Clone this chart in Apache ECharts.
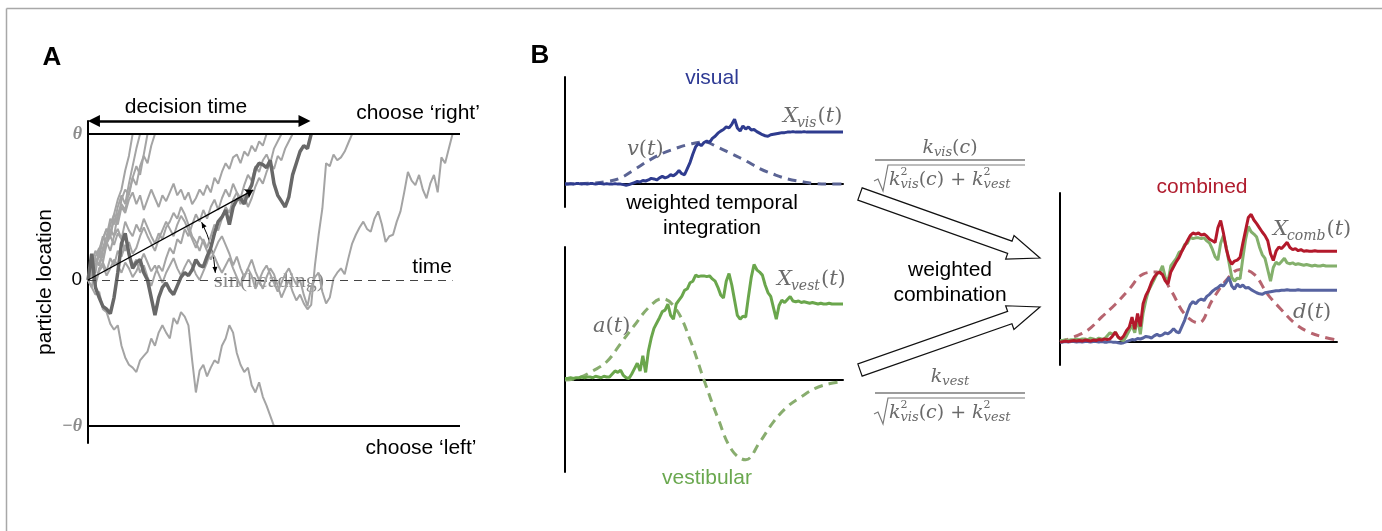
<!DOCTYPE html>
<html>
<head>
<meta charset="utf-8">
<script src="https://cdn.jsdelivr.net/npm/echarts@6/dist/echarts.min.js"></script>
<style>
  html, body { margin: 0; padding: 0; background: #fff; }
  #chart { width: 1382px; height: 531px; }
</style>
</head>
<body>
<div id="chart"></div>
<script>
// ---------- panel A: particle paths, one value per time step (bounds at +/-1)
const walkDark = [0, 0.18, -0.05, -0.12, -0.18, -0.2, -0.23, -0.12, 0.05, 0.25, 0.32, 0.18, 0.08, 0.12, 0.14, 0.05, 0, -0.12, -0.24, -0.12,
  -0.05, -0.02, -0.07, -0.1, -0.04, 0.02, 0.05, 0.03, 0.07, 0.14, 0.1, 0.09, 0.16, 0.22, 0.32, 0.4, 0.43, 0.48, 0.38, 0.5,
  0.55, 0.56, 0.52, 0.6, 0.65, 0.76, 0.8, 0.79, 0.77, 0.82, 0.66, 0.58, 0.54, 0.5, 0.57, 0.72, 0.8, 0.88, 0.92, 0.9, 1.0];
const walkDown = [0, -0.05, -0.1, -0.08, -0.2, -0.22, -0.3, -0.34, -0.31, -0.45, -0.53, -0.58, -0.6, -0.63, -0.55, -0.52, -0.49, -0.4, -0.45, -0.36,
  -0.31, -0.36, -0.4, -0.26, -0.3, -0.22, -0.25, -0.31, -0.55, -0.77, -0.62, -0.58, -0.66, -0.6, -0.55, -0.57, -0.45, -0.4, -0.31, -0.36,
  -0.5, -0.58, -0.63, -0.6, -0.72, -0.77, -0.7, -0.8, -0.86, -0.93, -1.0];
const walkLong = [0, 0.04, -0.03, 0.06, 0.1, 0.03, 0.08, 0.14, 0.1, 0.05, 0.12, 0.08, 0.02, 0.06, 0.12, 0.18, 0.12, 0.06, 0.1, 0.04,
  -0.02, 0.05, 0.1, 0.15, 0.08, 0.03, 0.09, 0.14, 0.1, 0.04, 0.0, 0.06, 0.12, 0.2, 0.16, 0.1, 0.05, 0.1, 0.15, 0.08,
  0.02, -0.04, 0.02, 0.08, 0.03, -0.06, 0.0, 0.06, 0.1, 0.04, -0.02, -0.08, -0.02, 0.04, 0.08, 0.02, -0.03,
  0.0, -0.1, -0.18, -0.05, 0.02, 0.05, -0.08, -0.16, -0.12, 0.01, 0.05, 0.08, 0.04, 0.15, 0.25, 0.31, 0.36, 0.4, 0.35, 0.33,
  0.42, 0.47, 0.38, 0.26, 0.3, 0.31, 0.4, 0.47, 0.6, 0.74, 0.68, 0.65, 0.72, 0.62, 0.56, 0.66, 0.72, 0.6, 0.84, 0.8, 0.9, 1.0];
const walkLate = [0, 0.08, 0.16, 0.22, 0.15, 0.25, 0.3, 0.24, 0.32, 0.28, 0.2, 0.26, 0.18, 0.22, 0.3, 0.36, 0.3, 0.25, 0.2, 0.28,
  0.34, 0.4, 0.35, 0.3, 0.38, 0.44, 0.4, 0.34, 0.28, 0.22, 0.3, 0.26, 0.2, 0.14, 0.2, 0.26, 0.3, 0.24, 0.18, 0.1,
  0.16, 0.08, 0.02, 0.08, 0.14, 0.06, 0.0, -0.06, 0.02, 0.08, 0.04, -0.04, -0.12, -0.06, 0.0, -0.08, -0.14, -0.1, -0.16, -0.2,
  -0.17, 0.1, 0.31, 0.49, 0.8, 0.78, 0.86, 0.82, 0.84, 0.88, 0.94, 1.0];
const walkMidA = [0, 0.05, -0.02, 0.08, 0.12, 0.06, 0.15, 0.1, 0.2, 0.16, 0.24, 0.18, 0.1, 0.14, 0.05, 0.1, 0.02, -0.04, 0.04, 0.1,
  0.06, 0.15, 0.22, 0.18, 0.28, 0.25, 0.35, 0.3, 0.38, 0.45, 0.4, 0.48, 0.42, 0.5, 0.55, 0.48, 0.56, 0.62, 0.57, 0.66,
  0.6, 0.52, 0.58, 0.5, 0.56, 0.64, 0.7, 0.66, 0.74, 0.8, 0.76, 0.85, 0.82, 0.9, 0.95, 1.0];
const walkMidB = [0, 0.12, 0.2, 0.15, 0.28, 0.35, 0.3, 0.42, 0.38, 0.5, 0.46, 0.55, 0.6, 0.52, 0.58, 0.48, 0.55, 0.62, 0.56, 0.5,
  0.58, 0.54, 0.6, 0.66, 0.58, 0.62, 0.55, 0.6, 0.52, 0.56, 0.62, 0.58, 0.65, 0.6, 0.7, 0.66, 0.74, 0.8, 0.76, 0.84,
  0.86, 0.8, 0.88, 0.85, 0.92, 0.88, 0.95, 0.92, 1.0];
const walkMidC = [0, 0.06, 0.14, 0.1, 0.2, 0.26, 0.2, 0.3, 0.35, 0.28, 0.4, 0.34, 0.3, 0.38, 0.33, 0.42, 0.36, 0.3, 0.25, 0.32,
  0.28, 0.36, 0.4, 0.46, 0.42, 0.5, 0.45, 0.38, 0.3, 0.26, 0.2, 0.28, 0.22, 0.3, 0.38, 0.34, 0.42, 0.5, 0.46, 0.55,
  0.6, 0.56, 0.65, 0.72, 0.68, 0.78, 0.74, 0.82, 0.86, 0.8, 0.9, 0.95, 1.0];
const walkFastA = [0, 0.1, 0.05, 0.2, 0.28, 0.35, 0.3, 0.45, 0.55, 0.62, 0.75, 0.85, 1.0];
const walkFastB = [0, 0.08, 0.15, 0.1, 0.22, 0.3, 0.42, 0.38, 0.5, 0.58, 0.52, 0.66, 0.78, 0.9, 1.0];
const walkFastC = [0, -0.05, 0.1, 0.18, 0.12, 0.25, 0.35, 0.3, 0.45, 0.52, 0.48, 0.6, 0.7, 0.65, 0.78, 0.85, 0.8, 0.92, 1.0];
const walkFastD = [0, 0.15, 0.08, 0.2, 0.3, 0.25, 0.38, 0.45, 0.4, 0.55, 0.62, 0.58, 0.7, 0.78, 0.72, 0.86, 1.0];
const grayWalks = [walkLong, walkLate, walkMidA, walkMidB, walkMidC, walkFastA, walkFastB, walkFastC, walkFastD, walkDown];
const boundTicks = [-1, 0, 1];

// ---------- panel B: accumulated evidence, one value per time step (t = 0..100)
const visX = [0, 0, 0.01, 0, 0.01, 0.01, 0, 0.01, 0, 0.01, 0.01, 0, 0.01, 0.01, 0, 0.01, 0, 0, 0.01, 0, 0,
  -0.01, -0.02, -0.01, 0.01, 0.03, 0.05, 0.04, 0.07, 0.06, 0.08, 0.11, 0.1, 0.08, 0.12, 0.15, 0.12, 0.14, 0.18, 0.16, 0.2,
  0.26, 0.2, 0.18, 0.3, 0.42, 0.58, 0.72, 0.78, 0.74, 0.8, 0.83, 0.8, 0.88, 0.92, 0.98, 1.02, 1.05, 1.1, 1.08, 1.15,
  1.25, 1.08, 1.02, 1.12, 1.06, 1.1, 1.04, 1.05, 1.01, 0.98, 0.95, 0.93, 0.92, 0.95, 0.96, 0.97, 0.98, 0.99, 0.99, 1.0,
  1.0, 1.01, 1.0, 1.0, 1.0, 1.01, 1.0, 1.0, 1.0, 1.0, 1.0, 1.0, 1.0, 1.0, 1.0, 1.0, 1.0, 1.0, 1.0, 1.0];
const vestX = [0.02, 0.02, 0.03, 0.02, 0.03, 0.03, 0.04, 0.03, 0.04, 0.04, 0.03, 0.05, 0.04, 0.03, 0.05, 0.04,
  0.04, 0.08, 0.12, 0.1, 0.13, 0.06, 0.03, 0.02, 0.08, 0.15, 0.22, 0.12, 0.32, 0.1, 0.38,
  0.55, 0.68, 0.75, 0.82, 0.9, 0.92, 1.0, 0.85, 0.8, 1.0, 1.05, 1.1, 1.18, 1.2, 1.28, 1.3, 1.38, 1.36, 1.37, 1.37,
  1.36, 1.37, 1.33, 1.3, 1.22, 1.12, 1.08, 1.3, 1.4, 1.25, 1.05, 0.85, 0.8, 0.84, 0.83, 1.1, 1.35, 1.52, 1.45, 1.42,
  1.38, 1.25, 1.15, 1.1, 0.95, 0.8, 0.98, 1.05, 1.02, 1.06, 1.1, 1.04, 1.03, 1.04, 1.02, 1.03, 1.02, 1.01, 1.02, 1.01,
  1.0, 1.01, 1.0, 1.0, 1.01, 1.0, 1.0, 1.0, 1.0, 1.0];
const combX = [0, 0.01, 0.02, 0.01, 0.02, 0.03, 0.02, 0.03, 0.02, 0.04, 0.03, 0.02, 0.04, 0.03, 0.05, 0.04, 0.06, 0.05,
  0.06, 0.12, 0.19, 0.1, 0.06, 0.12, 0.22, 0.29, 0.48, 0.25, 0.55, 0.3,
  0.74, 0.9, 1.0, 1.15, 1.25, 1.32, 1.35, 1.3, 1.18, 1.12, 1.35, 1.45, 1.55, 1.63,
  1.75, 1.85, 1.95, 2.05, 2.1, 2.08, 2.1, 2.06, 2.08, 2.04, 1.98, 1.95, 1.92, 2.2, 2.34, 2.1, 1.8, 1.6, 1.5, 1.56,
  1.58, 1.63, 1.9, 2.15, 2.4, 2.46, 2.35, 2.28, 2.2, 2.12, 2.05, 1.95, 1.7, 1.57, 1.75, 1.83, 1.8, 1.86, 1.92, 1.82,
  1.78, 1.8, 1.76, 1.78, 1.75, 1.76, 1.75, 1.75, 1.76, 1.75, 1.75, 1.75, 1.75, 1.75, 1.75, 1.75, 1.75];

// stimulus / weighting profiles, sampled every 5 time steps
const kernelStep = 5;
const visKernel = [0, 0.01, 0.02, 0.05, 0.12, 0.28, 0.45, 0.59, 0.69, 0.77, 0.81, 0.71, 0.58, 0.45, 0.3, 0.19, 0.1, 0.05, 0.01, 0, 0];
const vestKernel = [0, 0.03, 0.12, 0.24, 0.48, 0.72, 0.95, 1.07, 0.93, 0.53, 0.0, -0.5, -0.92, -1.05, -0.82, -0.55, -0.35, -0.22, -0.11, -0.05, -0.02];
const combKernel = [0, 0.1, 0.23, 0.48, 0.73, 1.02, 1.31, 1.35, 1.0, 0.54, 0.37, 0.81, 1.19, 1.4, 1.31, 0.92, 0.62, 0.35, 0.19, 0.1, 0.04];

const SANS = '"Liberation Sans", Arial, sans-serif';
const SERIF = '"Liberation Serif", "DejaVu Serif", serif';
const MATH_FONT = '"DejaVu Serif", serif';
const MATH = '#6a6a6a';
const LABEL = 21;

const toPoints = (values, step) => values.map((v, i) => [i * (step || 1), v]);

const lineSeries = (values, axis, color, width, opts) => Object.assign({
  type: 'line',
  xAxisIndex: axis.x,
  yAxisIndex: axis.y,
  data: toPoints(values, opts && opts.step),
  showSymbol: false,
  symbol: 'none',
  silent: true,
  animation: false,
  lineStyle: { color, width, type: (opts && opts.dashed) ? [9, 6] : 'solid', cap: 'butt' },
}, opts && opts.extra);

const guide = (data, lineStyle, symbol, symbolSize) => ({
  type: 'line',
  xAxisIndex: 0,
  yAxisIndex: 0,
  data: [],
  silent: true,
  animation: false,
  markLine: {
    silent: true,
    animation: false,
    symbol,
    symbolSize,
    label: { show: false },
    emphasis: { disabled: true },
    lineStyle,
    data,
  },
});

// ---------- decorations (text, arrows, formula pieces)
const text = (x, y, str, font, fill, align) => ({
  type: 'text', x, y, silent: true,
  style: { text: str, font, fill: fill || '#000', textAlign: align || 'center', textVerticalAlign: 'middle' },
});
const segment = (pts, color, width) => ({
  type: 'polyline', silent: true, shape: { points: pts },
  style: { stroke: color, lineWidth: width, fill: null },
});

// lay out a row of math pieces left to right; {t, s, r: upright, dy, keep: don't advance, gap}
const measureCtx = document.createElement('canvas').getContext('2d');
const pieceFont = (p) => (p.r ? '' : 'italic ') + p.s + 'px ' + MATH_FONT;
const rowWidth = (parts) => parts.reduce((w, p) => {
  if (p.gap) return w + p.gap;
  measureCtx.font = pieceFont(p);
  return p.keep ? w : w + measureCtx.measureText(p.t).width;
}, 0);
const mathRow = (x, y, parts, align) => {
  let cx = align === 'center' ? x - rowWidth(parts) / 2 : x;
  const out = [];
  parts.forEach((p) => {
    if (p.gap) { cx += p.gap; return; }
    out.push(text(cx, y + (p.dy || 0), p.t, pieceFont(p), MATH, 'left'));
    measureCtx.font = pieceFont(p);
    if (!p.keep) cx += measureCtx.measureText(p.t).width;
  });
  return out;
};
const labelOf = (main, sub) => {
  const parts = [{ t: main, s: 21 }];
  if (sub) parts.push({ gap: -1 }, { t: sub, s: 14, dy: 6 }, { gap: 1 });
  parts.push({ t: '(', s: 21, r: true }, { t: 't', s: 21 }, { t: ')', s: 21, r: true });
  return parts;
};

const hollowArrow = (x0, y0, x1, y1) => {
  const len = Math.hypot(x1 - x0, y1 - y0);
  const ux = (x1 - x0) / len, uy = (y1 - y0) / len;
  const nx = -uy, ny = ux;
  const shaft = 6.5, head = 12.5, headLen = 32;
  const bx = x1 - ux * headLen, by = y1 - uy * headLen;
  return {
    type: 'polygon', silent: true,
    shape: { points: [
      [x0 + nx * shaft, y0 + ny * shaft], [bx + nx * shaft, by + ny * shaft], [bx + nx * head, by + ny * head],
      [x1, y1], [bx - nx * head, by - ny * head], [bx - nx * shaft, by - ny * shaft], [x0 - nx * shaft, y0 - ny * shaft],
    ] },
    style: { fill: '#fff', stroke: '#111', lineWidth: 1.2 },
  };
};

const tinyHead = (x, y, dx, dy) => {
  const s = 6, w = 2.5;
  const bx = x - dx * s, by = y - dy * s;
  return {
    type: 'polygon', silent: true,
    shape: { points: [[x, y], [bx - dy * w, by + dx * w], [bx + dy * w, by - dx * w]] },
    style: { fill: '#000' },
  };
};

// fraction k / sqrt(k_vis^2(c) + k_vest^2), placed by its fraction bar
const denominator = [
  { t: 'k', s: 19 }, { t: '2', s: 11, r: true, dy: -8, keep: true }, { t: 'vis', s: 13, dy: 5 },
  { t: '(', s: 19, r: true }, { t: 'c', s: 19 }, { t: ')', s: 19, r: true },
  { gap: 6 }, { t: '+', s: 19, r: true }, { gap: 6 },
  { t: 'k', s: 19 }, { t: '2', s: 11, r: true, dy: -8, keep: true }, { t: 'vest', s: 13, dy: 5 },
];
const formula = (barY, numY, numerator) => {
  const d = barY + 20;
  const w = rowWidth(denominator);
  return [
    ...mathRow(950, numY, numerator, 'center'),
    segment([[875, barY], [1025, barY]], '#7a7a7a', 1.4),
    segment([[874, d + 1], [878, d - 1], [883, d + 11], [888, barY + 5], [Math.max(1025, 890 + w), barY + 5]], '#7a7a7a', 1.2),
    ...mathRow(889, d, denominator, 'left'),
  ];
};

const arcCx = 88, arcCy = 280, arcR = 127.5, arcA0 = -0.471, arcA1 = -0.056;

const graphics = [
  segment([[6.5, 8.5], [1382, 8.5]], '#a8a8a8', 1.5),
  segment([[6.5, 8.5], [6.5, 531]], '#a8a8a8', 1.5),
  text(52, 58, 'A', 'bold 26px ' + SANS),
  text(540, 56, 'B', 'bold 26px ' + SANS),
  text(186, 107, 'decision time', LABEL + 'px ' + SANS),
  text(418, 113, 'choose \u2018right\u2019', LABEL + 'px ' + SANS),
  text(421, 448, 'choose \u2018left\u2019', LABEL + 'px ' + SANS),
  text(452, 267, 'time', LABEL + 'px ' + SANS, '#000', 'right'),
  text(269, 281, 'sin(heading)', '22px ' + SERIF, 'rgba(60,60,60,0.6)'),
  {
    type: 'arc', silent: true,
    shape: { cx: arcCx, cy: arcCy, r: arcR, startAngle: arcA0, endAngle: arcA1, clockwise: true },
    style: { stroke: '#000', lineWidth: 1, fill: null },
  },
  tinyHead(arcCx + arcR * Math.cos(arcA0), arcCy + arcR * Math.sin(arcA0), Math.sin(arcA0), -Math.cos(arcA0)),
  tinyHead(arcCx + arcR * Math.cos(arcA1), arcCy + arcR * Math.sin(arcA1), -Math.sin(arcA1), Math.cos(arcA1)),

  text(712, 78, 'visual', LABEL + 'px ' + SANS, '#2e3a94'),
  text(712, 203, 'weighted temporal', LABEL + 'px ' + SANS),
  text(712, 228, 'integration', LABEL + 'px ' + SANS),
  text(707, 478, 'vestibular', LABEL + 'px ' + SANS, '#6aa84f'),
  text(1202, 187, 'combined', LABEL + 'px ' + SANS, '#b01c2e'),
  text(950, 270, 'weighted', LABEL + 'px ' + SANS),
  text(950, 295, 'combination', LABEL + 'px ' + SANS),

  ...mathRow(783, 117, labelOf('X', 'vis')),
  ...mathRow(777, 280, labelOf('X', 'vest')),
  ...mathRow(1273, 230, labelOf('X', 'comb')),
  ...mathRow(627, 150, labelOf('v')),
  ...mathRow(593, 327, labelOf('a')),
  ...mathRow(1293, 313, labelOf('d')),

  hollowArrow(860, 194, 1040, 258),
  hollowArrow(860, 370, 1040, 307),
  ...formula(160, 148, [{ t: 'k', s: 19 }, { t: 'vis', s: 13, dy: 5 }, { t: '(', s: 19, r: true }, { t: 'c', s: 19 }, { t: ')', s: 19, r: true }]),
  ...formula(393, 377, [{ t: 'k', s: 19 }, { t: 'vest', s: 13, dy: 5 }]),
];

const hiddenX = (gridIndex, show) => ({
  type: 'value', gridIndex, min: 0, max: 100, show,
  axisLine: { show: true, onZero: true, lineStyle: { color: '#000', width: 2 } },
  axisTick: { show: false }, axisLabel: { show: false }, splitLine: { show: false },
});
const plainY = (gridIndex, min, max, show) => ({
  type: 'value', gridIndex, min, max, show,
  axisLine: { show: true, lineStyle: { color: '#000', width: 2 } },
  axisTick: { show: false }, axisLabel: { show: false }, splitLine: { show: false },
});

const renderChart = (node) => {
  const chart = echarts.init(node);
  const A = { x: 0, y: 0 }, VIS = { x: 1, y: 1 }, VEST = { x: 2, y: 2 }, COMB = { x: 3, y: 3 }, COMB_VEST = { x: 3, y: 4 };

  const series = [
    guide([[{ coord: [0, 1] }, { coord: [100, 1] }], [{ coord: [0, -1] }, { coord: [100, -1] }]],
      { color: '#000', width: 2, type: 'solid' }, 'none', 0),
    guide([[{ coord: [0, 0] }, { coord: [98, 0] }]], { color: '#444', width: 1.2, type: [8, 6] }, 'none', 0),
    ...grayWalks.map((w) => lineSeries(w, A, '#a4a4a4', 2)),
    lineSeries(walkDark, A, '#686868', 3.5),
    guide([[{ coord: [0, 0] }, { coord: [44.4, 0.616] }]], { color: '#000', width: 1.3, type: 'solid' }, ['none', 'arrow'], 8),
    guide([[{ coord: [1.6, 1.089] }, { coord: [58.2, 1.089] }]], { color: '#000', width: 2.5, type: 'solid' }, ['triangle', 'triangle'], 12),

    lineSeries(visKernel, VIS, '#5b6494', 3, { step: kernelStep, dashed: true, extra: { smooth: 0.4 } }),
    lineSeries(visX, VIS, '#2f3c8f', 3),
    lineSeries(vestKernel, VEST, '#88ad6e', 3, { step: kernelStep, dashed: true, extra: { smooth: 0.4 } }),
    lineSeries(vestX, VEST, '#6aa64c', 3),
    lineSeries(combKernel, COMB, '#b7646f', 3, { step: kernelStep, dashed: true, extra: { smooth: 0.4 } }),
    lineSeries(visX, COMB, '#5763a0', 3),
    lineSeries(vestX, COMB_VEST, '#84b06c', 3),
    lineSeries(combX, COMB, '#b3192b', 3),
  ];

  const option = {
    backgroundColor: '#fff',
    animation: false,
    grid: [
      { left: 88, top: 121, width: 372, height: 322, outerBoundsMode: 'none' },
      { left: 565, top: 77, width: 278, height: 130, outerBoundsMode: 'none' },
      { left: 565, top: 247, width: 278, height: 225, outerBoundsMode: 'none' },
      { left: 1060, top: 193, width: 277, height: 172, outerBoundsMode: 'none' },
    ],
    xAxis: [hiddenX(0, false), hiddenX(1, true), hiddenX(2, true), Object.assign(hiddenX(3, true), {
      axisLine: { show: true, onZero: true, onZeroAxisIndex: 3, lineStyle: { color: '#000', width: 2 } },
    })],
    yAxis: [
      {
        type: 'value', gridIndex: 0, min: -1.116, max: 1.089,
        name: 'particle location', nameLocation: 'middle', nameRotate: 90, nameGap: 32,
        nameTextStyle: { fontFamily: SANS, fontSize: LABEL, color: '#000' },
        axisLine: { show: true, lineStyle: { color: '#000', width: 2 } },
        axisTick: { show: false }, splitLine: { show: false },
        axisLabel: {
          customValues: boundTicks, margin: 6,
          formatter: (v) => (v === 0 ? '{z|0}' : (v > 0 ? '{t|\u03b8}' : '{t|\u2212\u03b8}')),
          rich: {
            z: { fontFamily: SANS, fontSize: 19, color: '#000' },
            t: { fontFamily: SERIF, fontStyle: 'italic', fontWeight: 'bold', fontSize: 18, color: '#8c8c8c' },
          },
        },
      },
      plainY(1, -0.44, 2.06, true),
      plainY(2, -1.21, 1.75, true),
      plainY(3, -0.44, 2.87, true),
      plainY(3, -0.303, 1.96, false),
    ],
    series,
    graphic: { elements: graphics },
  };

  chart.setOption(option);
};

renderChart(document.getElementById('chart'));
</script>
</body>
</html>
